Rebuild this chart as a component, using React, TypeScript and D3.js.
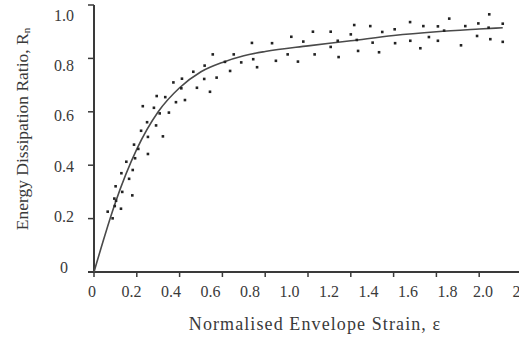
import { useEffect, useRef } from 'react';
import * as d3 from 'd3';

// scatter points (strain, ratio)
const strain = [
    0.064, 0.087, 0.095, 0.097, 0.101, 0.103, 0.126, 0.128, 0.132, 0.151,
    0.164, 0.179, 0.181, 0.187, 0.192, 0.207, 0.220, 0.228, 0.248, 0.252,
    0.252, 0.280, 0.290, 0.293, 0.307, 0.322, 0.333, 0.350, 0.371, 0.383,
    0.408, 0.411, 0.425, 0.464, 0.481, 0.515, 0.517, 0.542, 0.555, 0.573,
    0.612, 0.636, 0.653, 0.688, 0.738, 0.744, 0.762, 0.832, 0.850, 0.905,
    0.922, 0.953, 0.978, 1.023, 1.031, 1.106, 1.106, 1.139, 1.143, 1.200,
    1.216, 1.228, 1.234, 1.291, 1.302, 1.332, 1.347, 1.405, 1.407, 1.477,
    1.478, 1.525, 1.539, 1.565, 1.607, 1.607, 1.636, 1.660, 1.715, 1.735,
    1.790, 1.796, 1.844, 1.847, 1.852, 1.910, 1.910,
];
const ratio = [
    0.226, 0.201, 0.275, 0.247, 0.321, 0.267, 0.237, 0.370, 0.300, 0.413,
    0.349, 0.287, 0.382, 0.477, 0.426, 0.461, 0.529, 0.621, 0.561, 0.506,
    0.442, 0.615, 0.549, 0.659, 0.594, 0.508, 0.655, 0.597, 0.710, 0.636,
    0.688, 0.724, 0.644, 0.750, 0.690, 0.723, 0.773, 0.675, 0.815, 0.728,
    0.787, 0.753, 0.815, 0.785, 0.858, 0.797, 0.767, 0.857, 0.791, 0.815,
    0.881, 0.788, 0.863, 0.900, 0.815, 0.900, 0.843, 0.866, 0.805, 0.890,
    0.925, 0.869, 0.828, 0.921, 0.859, 0.823, 0.899, 0.909, 0.857, 0.936,
    0.866, 0.838, 0.921, 0.880, 0.920, 0.866, 0.904, 0.949, 0.849, 0.921,
    0.884, 0.931, 0.915, 0.965, 0.872, 0.930, 0.862,
];

// fitted curve
const fitStrain = [0, 0.05, 0.1, 0.2, 0.3, 0.4, 0.5, 0.6, 0.7, 0.8, 1.0, 1.2, 1.4, 1.6, 1.8, 1.91];
const fitRatio = [0, 0.135, 0.26, 0.46, 0.6, 0.69, 0.75, 0.785, 0.81, 0.826, 0.847, 0.866, 0.886, 0.9, 0.91, 0.915];

const xTicks = [0, 0.2, 0.4, 0.6, 0.8, 1.0, 1.2, 1.4, 1.6, 1.8];
const xTickLabels = ['0', '0.2', '0.4', '0.6', '0.8', '1.0', '1.2', '1.4', '1.6', '1.8', '2.0', '2.2'];
const yTicks = [0, 0.2, 0.4, 0.6, 0.8, 1.0];
const yTickLabels = ['0', '0.2', '0.4', '0.6', '0.8', '1.0'];

export default function App() {
    const svgRef = useRef<SVGSVGElement>(null);

    useEffect(() => {
        if (!svgRef.current) return;
        const svg = d3.select(svgRef.current);
        svg.selectAll('*').remove();

        const width = 519;
        const height = 339;
        const font = '"Liberation Serif", "Times New Roman", serif';
        const ink = '#3a3a3a';

        const x = d3.scaleLinear().domain([0, 2]).range([94, 522]);
        const y = d3.scaleLinear().domain([0, 1]).range([272, 5]);
        // tick labels in the original sit on a slightly tighter grid
        const xLab = d3.scaleLinear().domain([0, 1]).range([92, 289.5]);
        const yLab = d3.scaleLinear().domain([0, 1]).range([267, 15]);

        svg.append('rect').attr('width', width).attr('height', height).attr('fill', '#fff');

        // axes
        svg.append('line')
            .attr('x1', x(0) - 6).attr('x2', width)
            .attr('y1', y(0)).attr('y2', y(0))
            .attr('stroke', ink).attr('stroke-width', 2);
        svg.append('line')
            .attr('x1', x(0)).attr('x2', x(0))
            .attr('y1', y(0)).attr('y2', y(1))
            .attr('stroke', ink).attr('stroke-width', 2);

        svg.selectAll('.xtick')
            .data(xTicks)
            .enter()
            .append('line')
            .attr('x1', d => x(d)).attr('x2', d => x(d))
            .attr('y1', y(0)).attr('y2', y(0) + 5)
            .attr('stroke', ink).attr('stroke-width', 1.5);

        svg.selectAll('.ytick')
            .data(yTicks)
            .enter()
            .append('line')
            .attr('x1', x(0) - 6).attr('x2', x(0))
            .attr('y1', d => y(d)).attr('y2', d => y(d))
            .attr('stroke', ink).attr('stroke-width', 1.5);

        svg.selectAll('.xlabel')
            .data(xTickLabels)
            .enter()
            .append('text')
            .attr('x', (d, i) => xLab(i * 0.2) - (i >= 10 ? 4 : 0))
            .attr('y', 297)
            .attr('text-anchor', 'middle')
            .attr('font-family', font)
            .attr('font-size', '16px')
            .attr('fill', ink)
            .text(d => d);

        svg.selectAll('.ylabel')
            .data(yTickLabels)
            .enter()
            .append('text')
            .attr('x', 64)
            .attr('y', (d, i) => yLab(yTicks[i]))
            .attr('dy', '0.35em')
            .attr('text-anchor', 'middle')
            .attr('font-family', font)
            .attr('font-size', '16px')
            .attr('fill', ink)
            .text(d => d);

        // titles
        svg.append('text')
            .attr('x', 315)
            .attr('y', 330)
            .attr('text-anchor', 'middle')
            .attr('font-family', font)
            .attr('font-size', '18px')
            .attr('letter-spacing', '1.1px')
            .attr('fill', ink)
            .text('Normalised Envelope Strain, ε');

        const yt = svg.append('text')
            .attr('transform', 'translate(28,129) rotate(-90)')
            .attr('text-anchor', 'middle')
            .attr('font-family', font)
            .attr('font-size', '17.5px')
            .attr('fill', ink);
        yt.append('tspan').text('Energy Dissipation Ratio, R');
        yt.append('tspan').attr('font-size', '11px').attr('dy', 2).text('n');

        // fitted curve
        const line = d3.line<number>()
            .x((d, i) => x(fitStrain[i]))
            .y(d => y(d))
            .curve(d3.curveMonotoneX);
        svg.append('path')
            .datum(fitRatio)
            .attr('d', line)
            .attr('fill', 'none')
            .attr('stroke', '#4a4a4a')
            .attr('stroke-width', 1.6);

        // scatter
        svg.selectAll('.pt')
            .data(strain)
            .enter()
            .append('rect')
            .attr('x', d => x(d) - 1.3)
            .attr('y', (d, i) => y(ratio[i]) - 1.3)
            .attr('width', 2.6)
            .attr('height', 2.6)
            .attr('fill', '#222');
    }, []);

    return (
        <svg
            ref={svgRef}
            width={519}
            height={339}
            style={{ position: 'absolute', left: 0, top: 0 }}
        />
    );
}
